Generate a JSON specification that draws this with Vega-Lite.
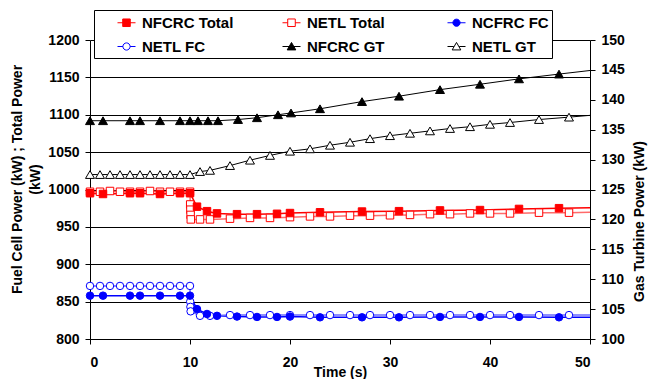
{
  "$schema": "https://vega.github.io/schema/vega-lite/v6.json",
  "width": 500,
  "height": 299,
  "autosize": {"type": "none"},
  "padding": {"left": 90, "top": 40, "right": 62, "bottom": 40},
  "background": "white",
  "config": {
    "view": {"stroke": null},
    "font": "Liberation Sans",
    "axis": {
      "labelFont": "Liberation Sans", "labelFontSize": 14, "labelFontWeight": "bold", "labelColor": "black",
      "titleFont": "Liberation Sans", "titleFontSize": 14, "titleFontWeight": "bold", "titleColor": "black",
      "domainColor": "black", "domainWidth": 1, "tickColor": "black", "tickSize": 5, "tickWidth": 1, "labelPadding": 6
    },
    "legend": {
      "orient": "none", "legendX": 4, "legendY": -30, "columns": 3, "direction": "horizontal", "gridAlign": "all",
      "labelFont": "Liberation Sans", "labelFontSize": 15, "labelFontWeight": "bold", "labelColor": "black",
      "symbolSize": 324, "symbolStrokeWidth": 1, "symbolOpacity": 1, "symbolOffset": 20, "labelOffset": 6,
      "columnPadding": 28, "rowPadding": 6, "padding": 3, "strokeColor": "black", "fillColor": "white"
    }
  },
  "data": {"values": [
    {"s": "NFCRC Total", "t": 0, "v": 995}, {"s": "NFCRC Total", "t": 1.3, "v": 994}, {"s": "NFCRC Total", "t": 4, "v": 995},
    {"s": "NFCRC Total", "t": 5, "v": 995}, {"s": "NFCRC Total", "t": 7, "v": 994}, {"s": "NFCRC Total", "t": 9, "v": 995},
    {"s": "NFCRC Total", "t": 10, "v": 995}, {"s": "NFCRC Total", "t": 10.7, "v": 977}, {"s": "NFCRC Total", "t": 11.7, "v": 971},
    {"s": "NFCRC Total", "t": 12.7, "v": 968}, {"s": "NFCRC Total", "t": 14.7, "v": 967}, {"s": "NFCRC Total", "t": 16.7, "v": 967},
    {"s": "NFCRC Total", "t": 18.7, "v": 967.5}, {"s": "NFCRC Total", "t": 20, "v": 968.5}, {"s": "NFCRC Total", "t": 23, "v": 969.5},
    {"s": "NFCRC Total", "t": 27.2, "v": 970.5}, {"s": "NFCRC Total", "t": 30.9, "v": 971}, {"s": "NFCRC Total", "t": 35, "v": 972},
    {"s": "NFCRC Total", "t": 39, "v": 972.5}, {"s": "NFCRC Total", "t": 42.9, "v": 974}, {"s": "NFCRC Total", "t": 46.9, "v": 975},
    {"s": "NFCRC Total", "t": 50, "v": 975.5},

    {"s": "NETL Total", "t": 0, "v": 997}, {"s": "NETL Total", "t": 1, "v": 997}, {"s": "NETL Total", "t": 2, "v": 998},
    {"s": "NETL Total", "t": 3, "v": 997}, {"s": "NETL Total", "t": 4, "v": 997}, {"s": "NETL Total", "t": 5, "v": 997},
    {"s": "NETL Total", "t": 6, "v": 998}, {"s": "NETL Total", "t": 7, "v": 997}, {"s": "NETL Total", "t": 8, "v": 997},
    {"s": "NETL Total", "t": 9, "v": 997}, {"s": "NETL Total", "t": 10, "v": 997}, {"s": "NETL Total", "t": 10.02, "v": 980},
    {"s": "NETL Total", "t": 10.04, "v": 973}, {"s": "NETL Total", "t": 10.06, "v": 966}, {"s": "NETL Total", "t": 10.08, "v": 960},
    {"s": "NETL Total", "t": 11, "v": 960}, {"s": "NETL Total", "t": 12, "v": 960}, {"s": "NETL Total", "t": 14, "v": 961},
    {"s": "NETL Total", "t": 16, "v": 962}, {"s": "NETL Total", "t": 18, "v": 962}, {"s": "NETL Total", "t": 20, "v": 963},
    {"s": "NETL Total", "t": 22, "v": 964}, {"s": "NETL Total", "t": 24, "v": 964}, {"s": "NETL Total", "t": 26, "v": 965},
    {"s": "NETL Total", "t": 28, "v": 965}, {"s": "NETL Total", "t": 30, "v": 965.5}, {"s": "NETL Total", "t": 32, "v": 966},
    {"s": "NETL Total", "t": 34, "v": 967}, {"s": "NETL Total", "t": 36, "v": 967}, {"s": "NETL Total", "t": 38, "v": 968},
    {"s": "NETL Total", "t": 40, "v": 968}, {"s": "NETL Total", "t": 42, "v": 968}, {"s": "NETL Total", "t": 44.9, "v": 969},
    {"s": "NETL Total", "t": 47.9, "v": 969}, {"s": "NETL Total", "t": 50, "v": 969.5},

    {"s": "NCFRC FC", "t": 0, "v": 858}, {"s": "NCFRC FC", "t": 1.3, "v": 858}, {"s": "NCFRC FC", "t": 4, "v": 858},
    {"s": "NCFRC FC", "t": 5, "v": 858}, {"s": "NCFRC FC", "t": 7, "v": 858}, {"s": "NCFRC FC", "t": 9, "v": 858},
    {"s": "NCFRC FC", "t": 10, "v": 858}, {"s": "NCFRC FC", "t": 10.7, "v": 840}, {"s": "NCFRC FC", "t": 11.7, "v": 833.5},
    {"s": "NCFRC FC", "t": 12.7, "v": 831}, {"s": "NCFRC FC", "t": 14.7, "v": 830}, {"s": "NCFRC FC", "t": 16.7, "v": 829.5},
    {"s": "NCFRC FC", "t": 18.7, "v": 829.5}, {"s": "NCFRC FC", "t": 20, "v": 830}, {"s": "NCFRC FC", "t": 23, "v": 829},
    {"s": "NCFRC FC", "t": 27.2, "v": 829}, {"s": "NCFRC FC", "t": 30.9, "v": 829}, {"s": "NCFRC FC", "t": 35, "v": 829.5},
    {"s": "NCFRC FC", "t": 39, "v": 829.5}, {"s": "NCFRC FC", "t": 42.9, "v": 829.5}, {"s": "NCFRC FC", "t": 46.9, "v": 829},
    {"s": "NCFRC FC", "t": 50, "v": 829},

    {"s": "NETL FC", "t": 0, "v": 871}, {"s": "NETL FC", "t": 1, "v": 871}, {"s": "NETL FC", "t": 2, "v": 871},
    {"s": "NETL FC", "t": 3, "v": 871}, {"s": "NETL FC", "t": 4, "v": 871}, {"s": "NETL FC", "t": 5, "v": 871},
    {"s": "NETL FC", "t": 6, "v": 871}, {"s": "NETL FC", "t": 7, "v": 871}, {"s": "NETL FC", "t": 8, "v": 871},
    {"s": "NETL FC", "t": 9, "v": 871}, {"s": "NETL FC", "t": 10, "v": 871}, {"s": "NETL FC", "t": 10.02, "v": 850},
    {"s": "NETL FC", "t": 10.04, "v": 843}, {"s": "NETL FC", "t": 10.06, "v": 837}, {"s": "NETL FC", "t": 11, "v": 831},
    {"s": "NETL FC", "t": 12, "v": 831}, {"s": "NETL FC", "t": 14, "v": 832}, {"s": "NETL FC", "t": 16, "v": 832},
    {"s": "NETL FC", "t": 18, "v": 832}, {"s": "NETL FC", "t": 20, "v": 832}, {"s": "NETL FC", "t": 22, "v": 832},
    {"s": "NETL FC", "t": 24, "v": 832}, {"s": "NETL FC", "t": 26, "v": 832}, {"s": "NETL FC", "t": 28, "v": 832},
    {"s": "NETL FC", "t": 30, "v": 832}, {"s": "NETL FC", "t": 32, "v": 832}, {"s": "NETL FC", "t": 34, "v": 832},
    {"s": "NETL FC", "t": 36, "v": 832}, {"s": "NETL FC", "t": 38, "v": 832}, {"s": "NETL FC", "t": 40, "v": 832},
    {"s": "NETL FC", "t": 42, "v": 832}, {"s": "NETL FC", "t": 44.9, "v": 832}, {"s": "NETL FC", "t": 47.9, "v": 832},
    {"s": "NETL FC", "t": 50, "v": 832},

    {"s": "NFCRC GT", "t": 0, "v": 136.5}, {"s": "NFCRC GT", "t": 1.3, "v": 136.5}, {"s": "NFCRC GT", "t": 4, "v": 136.5},
    {"s": "NFCRC GT", "t": 5, "v": 136.5}, {"s": "NFCRC GT", "t": 7, "v": 136.5}, {"s": "NFCRC GT", "t": 9, "v": 136.5},
    {"s": "NFCRC GT", "t": 10, "v": 136.5}, {"s": "NFCRC GT", "t": 10.8, "v": 136.5}, {"s": "NFCRC GT", "t": 11.8, "v": 136.5},
    {"s": "NFCRC GT", "t": 12.8, "v": 136.5}, {"s": "NFCRC GT", "t": 14.8, "v": 136.7}, {"s": "NFCRC GT", "t": 16.7, "v": 137.0},
    {"s": "NFCRC GT", "t": 18.8, "v": 137.5}, {"s": "NFCRC GT", "t": 20.1, "v": 137.8}, {"s": "NFCRC GT", "t": 23, "v": 138.5},
    {"s": "NFCRC GT", "t": 27.2, "v": 139.7}, {"s": "NFCRC GT", "t": 30.9, "v": 140.6}, {"s": "NFCRC GT", "t": 35, "v": 141.7},
    {"s": "NFCRC GT", "t": 39, "v": 142.6}, {"s": "NFCRC GT", "t": 42.9, "v": 143.5}, {"s": "NFCRC GT", "t": 46.9, "v": 144.3},
    {"s": "NFCRC GT", "t": 50, "v": 144.9},

    {"s": "NETL GT", "t": 0, "v": 127.5}, {"s": "NETL GT", "t": 1, "v": 127.5}, {"s": "NETL GT", "t": 2, "v": 127.5},
    {"s": "NETL GT", "t": 3, "v": 127.5}, {"s": "NETL GT", "t": 4, "v": 127.5}, {"s": "NETL GT", "t": 5, "v": 127.5},
    {"s": "NETL GT", "t": 6, "v": 127.5}, {"s": "NETL GT", "t": 7, "v": 127.5}, {"s": "NETL GT", "t": 8, "v": 127.5},
    {"s": "NETL GT", "t": 9, "v": 127.5}, {"s": "NETL GT", "t": 10, "v": 127.5}, {"s": "NETL GT", "t": 11, "v": 128.0},
    {"s": "NETL GT", "t": 12, "v": 128.2}, {"s": "NETL GT", "t": 14, "v": 129.0}, {"s": "NETL GT", "t": 16, "v": 129.9},
    {"s": "NETL GT", "t": 18, "v": 130.7}, {"s": "NETL GT", "t": 20, "v": 131.4}, {"s": "NETL GT", "t": 22, "v": 131.8},
    {"s": "NETL GT", "t": 24, "v": 132.4}, {"s": "NETL GT", "t": 26, "v": 132.9}, {"s": "NETL GT", "t": 28, "v": 133.5},
    {"s": "NETL GT", "t": 30, "v": 134.0}, {"s": "NETL GT", "t": 32, "v": 134.4}, {"s": "NETL GT", "t": 34, "v": 134.8},
    {"s": "NETL GT", "t": 36, "v": 135.2}, {"s": "NETL GT", "t": 38, "v": 135.5}, {"s": "NETL GT", "t": 40, "v": 135.9},
    {"s": "NETL GT", "t": 42, "v": 136.2}, {"s": "NETL GT", "t": 44.9, "v": 136.7}, {"s": "NETL GT", "t": 47.9, "v": 137.1},
    {"s": "NETL GT", "t": 50, "v": 137.4}
  ]},
  "encoding": {
    "x": {
      "field": "t", "type": "quantitative",
      "scale": {"domain": [0, 50], "nice": false, "zero": false},
      "axis": {"values": [0, 10, 20, 30, 40, 50], "grid": false, "title": "Time (s)", "titlePadding": -4, "labelPadding": 11}
    }
  },
  "layer": [
    {
      "encoding": {
        "y": {
          "field": "v", "type": "quantitative",
          "scale": {"domain": [800, 1200], "nice": false, "zero": false},
          "axis": {
            "orient": "left", "format": "d",
            "values": [800, 850, 900, 950, 1000, 1050, 1100, 1150, 1200],
            "grid": true, "gridColor": "black", "gridWidth": 1, "gridOpacity": 1,
            "title": ["Fuel Cell Power (kW) ; Total Power", "(kW)"],
            "titleLineHeight": 18, "titlePadding": 5, "titleY": 139
          }
        }
      },
      "layer": [
        {
          "transform": [{"filter": {"field": "s", "oneOf": ["NFCRC Total", "NETL Total", "NCFRC FC", "NETL FC"]}}],
          "mark": {"type": "line", "strokeWidth": 1.5},
          "encoding": {
            "color": {
              "field": "s", "type": "nominal", "legend": null,
              "scale": {
                "domain": ["NETL GT", "NFCRC GT", "NETL FC", "NCFRC FC", "NETL Total", "NFCRC Total"],
                "range": ["#000000", "#000000", "#6a6aff", "#0000ff", "#ff6a6a", "#ff0000"]
              }
            }
          }
        },
        {
          "transform": [{"filter": "datum.s == 'NETL Total' && datum.t < 50"}],
          "mark": {"type": "point", "shape": "square", "filled": true, "fill": "white", "stroke": "#ff0000", "strokeWidth": 1, "size": 56, "opacity": 1}
        },
        {
          "transform": [{"filter": "datum.s == 'NFCRC Total' && datum.t < 50"}],
          "mark": {"type": "point", "shape": "square", "filled": true, "fill": "#ff0000", "stroke": "#ff0000", "strokeWidth": 1, "size": 56, "opacity": 1}
        },
        {
          "transform": [{"filter": "datum.s == 'NETL FC' && datum.t < 50"}],
          "mark": {"type": "point", "shape": "circle", "filled": true, "fill": "white", "stroke": "#0000ff", "strokeWidth": 1, "size": 56, "opacity": 1}
        },
        {
          "transform": [{"filter": "datum.s == 'NCFRC FC' && datum.t < 50"}],
          "mark": {"type": "point", "shape": "circle", "filled": true, "fill": "#0000ff", "stroke": "#0000ff", "strokeWidth": 1, "size": 56, "opacity": 1}
        }
      ]
    },
    {
      "encoding": {
        "y": {
          "field": "v", "type": "quantitative",
          "scale": {"domain": [100, 150], "nice": false, "zero": false},
          "axis": {
            "orient": "right",
            "values": [100, 105, 110, 115, 120, 125, 130, 135, 140, 145, 150],
            "grid": false,
            "title": "Gas Turbine Power (kW)",
            "titleAngle": -90, "titleBaseline": "top", "titlePadding": 8, "titleY": 181
          }
        }
      },
      "layer": [
        {
          "transform": [{"filter": {"field": "s", "oneOf": ["NFCRC GT", "NETL GT"]}}],
          "mark": {"type": "line", "strokeWidth": 1},
          "encoding": {
            "color": {
              "field": "s", "type": "nominal", "legend": null,
              "scale": {
                "domain": ["NETL GT", "NFCRC GT", "NETL FC", "NCFRC FC", "NETL Total", "NFCRC Total"],
                "range": ["#000000", "#000000", "#6a6aff", "#0000ff", "#ff6a6a", "#ff0000"]
              }
            }
          }
        },
        {
          "transform": [{"filter": "datum.s == 'NETL GT' && datum.t < 50"}],
          "mark": {"type": "point", "shape": "triangle-up", "filled": true, "fill": "white", "stroke": "black", "strokeWidth": 1, "size": 80, "opacity": 1}
        },
        {
          "transform": [{"filter": "datum.s == 'NFCRC GT' && datum.t < 50"}],
          "mark": {"type": "point", "shape": "triangle-up", "filled": true, "fill": "black", "stroke": "black", "strokeWidth": 1, "size": 80, "opacity": 1}
        }
      ]
    },
    {
      "transform": [{"filter": "datum.t == 0"}],
      "mark": {"type": "point", "filled": true, "opacity": 0.001},
      "encoding": {
        "shape": {
          "field": "s", "type": "nominal", "title": null,
          "scale": {
            "domain": ["NFCRC Total", "NETL Total", "NCFRC FC", "NETL FC", "NFCRC GT", "NETL GT"],
            "range": [
              "M-1,0H1M-0.42,-0.42H0.42V0.42H-0.42Z",
              "M-1,0H-0.42M0.42,0H1M-0.42,-0.42H0.42V0.42H-0.42Z",
              "M-1,0H1M0.4,0A0.4,0.4,0,1,1,-0.4,0A0.4,0.4,0,1,1,0.4,0Z",
              "M-1,0H-0.4M0.4,0H1M0.4,0A0.4,0.4,0,1,1,-0.4,0A0.4,0.4,0,1,1,0.4,0Z",
              "M-1,0H1M0,-0.45L0.48,0.38H-0.48Z",
              "M-1,0H-0.3M0.3,0H1M0,-0.45L0.48,0.38H-0.48Z"
            ]
          }
        },
        "fill": {
          "field": "s", "type": "nominal", "title": null,
          "scale": {
            "domain": ["NFCRC Total", "NETL Total", "NCFRC FC", "NETL FC", "NFCRC GT", "NETL GT"],
            "range": ["#ff0000", "#ffffff", "#0000ff", "#ffffff", "#000000", "#ffffff"]
          }
        },
        "stroke": {
          "field": "s", "type": "nominal", "title": null,
          "scale": {
            "domain": ["NFCRC Total", "NETL Total", "NCFRC FC", "NETL FC", "NFCRC GT", "NETL GT"],
            "range": ["#ff0000", "#ff0000", "#0000ff", "#0000ff", "#000000", "#000000"]
          }
        }
      }
    }
  ],
  "resolve": {"scale": {"y": "independent"}}
}
